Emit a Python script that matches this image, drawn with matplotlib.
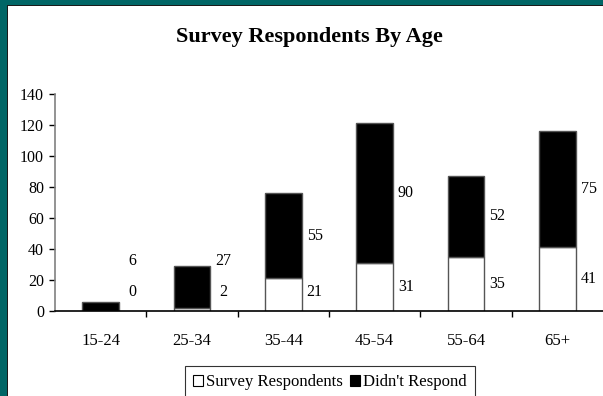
import matplotlib
matplotlib.use("Agg")
import matplotlib.pyplot as plt
from matplotlib.patches import Patch, Rectangle

# chart data
age_groups = ["15-24", "25-34", "35-44", "45-54", "55-64", "65+"]
respondents = [0, 2, 21, 31, 35, 41]
no_response = [6, 27, 55, 90, 52, 75]

TEAL = "#006666"
plt.rcParams["font.family"] = ["Liberation Serif", "DejaVu Serif"]

fig = plt.figure(figsize=(6.03, 3.96), dpi=100)
fig.patch.set_facecolor("white")

# teal frame on the left and top edges
fig.patches.append(Rectangle((0, 0), 7 / 603, 1, transform=fig.transFigure,
                             facecolor=TEAL, edgecolor="none", zorder=0))
fig.patches.append(Rectangle((0, 1 - 5 / 396), 1, 5 / 396, transform=fig.transFigure,
                             facecolor=TEAL, edgecolor="none", zorder=0))
fig.patches.append(Rectangle((7 / 603, 0), 1.3 / 603, 1 - 5 / 396, transform=fig.transFigure,
                             facecolor="#1a1a1a", edgecolor="none", zorder=0))
fig.patches.append(Rectangle((7 / 603, 1 - 6.3 / 396), 1, 1.3 / 396, transform=fig.transFigure,
                             facecolor="#1a1a1a", edgecolor="none", zorder=0))

ax = fig.add_axes([55 / 603, 85 / 396, 548 / 603, 217 / 396])
x = list(range(len(age_groups)))
width = 0.405

ax.bar(x, respondents, width=width, color="white", edgecolor="#555555", linewidth=1)
ax.bar(x, no_response, width=width, bottom=respondents, color="black",
       edgecolor="#555555", linewidth=1)

# value labels to the right of each bar, nudged apart like the original
for i in x:
    low = max(respondents[i] / 2, 12)
    high = max(respondents[i] + no_response[i] / 2, low + 20)
    lx = i + width / 2 + 0.14
    ax.text(lx, low, str(respondents[i]), ha="center", va="center", fontsize=11.5)
    ax.text(lx, high, str(no_response[i]), ha="center", va="center", fontsize=11.5)

ax.set_xlim(-0.5, len(age_groups) - 0.5)
ax.set_ylim(0, 140)
ax.set_yticks(range(0, 141, 20))
ax.set_xticks(x)
ax.set_xticklabels(age_groups)
ax.set_xticks([i + 0.5 for i in x[:-1]], minor=True)
ax.tick_params(axis="x", which="major", length=0, pad=16, labelsize=12)
ax.tick_params(axis="x", which="minor", length=4, width=1, direction="out")
ax.tick_params(axis="y", length=4, width=1, direction="out", labelsize=11.5, pad=4)

for side in ["top", "right"]:
    ax.spines[side].set_visible(False)
ax.spines["left"].set_color("#808080")
ax.spines["left"].set_linewidth(1.2)
ax.spines["bottom"].set_color("black")
ax.spines["bottom"].set_linewidth(1.2)

fig.text(309 / 603, 1 - 37 / 396, "Survey Respondents By Age", ha="center", va="center",
         fontsize=16, fontweight="bold")

handles = [Patch(facecolor="white", edgecolor="black", linewidth=0.8),
           Patch(facecolor="black", edgecolor="black", linewidth=0.8)]
leg = fig.legend(handles, ["Survey Respondents", "Didn't Respond"], loc="upper center",
                 bbox_to_anchor=(330 / 603, 1 - 366 / 396), ncol=2, fontsize=12.1,
                 frameon=True, fancybox=False, handlelength=0.6, handleheight=0.6,
                 handletextpad=0.2, columnspacing=0.4, borderpad=0.5, borderaxespad=0)
leg.get_frame().set_edgecolor("black")
leg.get_frame().set_linewidth(0.8)

fig.savefig("out.png", dpi=100)
